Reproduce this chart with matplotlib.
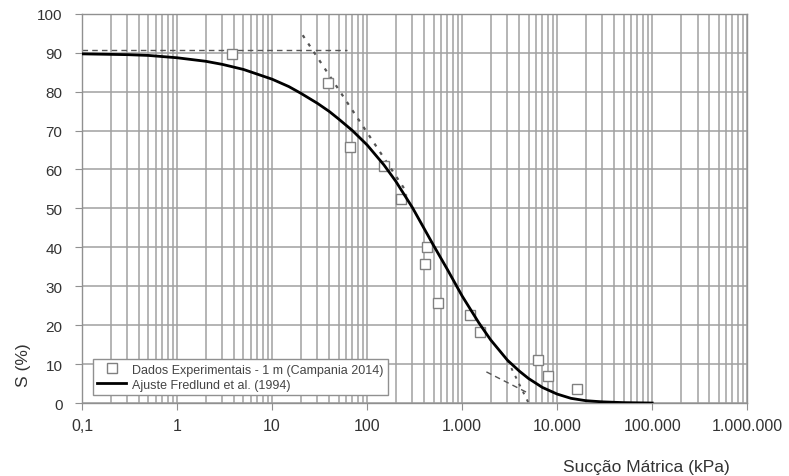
import matplotlib
matplotlib.use("Agg")
import matplotlib.pyplot as plt
from matplotlib.ticker import FixedLocator, LogLocator, NullFormatter, FixedFormatter

plt.rcParams['font.family'] = ['Liberation Sans', 'DejaVu Sans']

# Experimental data (suction kPa, saturation %)
exp_suction = [3.8, 39, 66, 150, 225, 430, 410, 560, 1200, 1530, 6300, 8000, 16000]
exp_S = [89.6, 82.3, 65.7, 60.8, 52.3, 40.2, 35.6, 25.8, 22.7, 18.3, 11.0, 6.9, 3.6]

# Fredlund & Xing fitted curve
fit_suction = [0.1, 0.3, 0.5, 1, 2, 3, 5, 10, 15, 20, 30, 40, 50, 70, 100, 150, 200,
               300, 500, 700, 1000, 1500, 2000, 3000, 4000, 5000, 7000, 10000,
               14000, 20000, 30000, 50000, 100000]
fit_S = [89.7, 89.5, 89.3, 88.7, 87.8, 87.0, 85.7, 83.2, 81.3, 79.6, 77.0, 74.9,
         73.0, 70.0, 66.3, 61.2, 57.0, 50.2, 40.5, 34.3, 27.5, 20.6, 16.2, 11.0,
         8.2, 6.3, 4.0, 2.3, 1.2, 0.6, 0.3, 0.1, 0.0]

# Construction lines
hline_x = [0.1, 62]
hline_y = [90.6, 90.6]
tan1_x = [21, 263]
tan1_y = [94.5, 54]
tan2_x = [1800, 5000]
tan2_y = [8.0, 2.5]
tan3_x = [3000, 5000]
tan3_y = [11.0, 0.0]

xtick_vals = [0.1, 1, 10, 100, 1000, 10000, 100000, 1000000]
xtick_labels = ["0,1", "1", "10", "100", "1.000", "10.000", "100.000", "1.000.000"]
ytick_vals = [0, 10, 20, 30, 40, 50, 60, 70, 80, 90, 100]

fig = plt.figure(figsize=(7.89, 4.77), dpi=100)
ax = fig.add_axes([0.104, 0.153, 0.843, 0.816])

ax.set_xscale('log')
ax.set_xlim(0.1, 1e6)
ax.set_ylim(0, 100)

grid_c = '#a0a0a0'
ax.xaxis.set_major_locator(FixedLocator(xtick_vals))
ax.xaxis.set_major_formatter(FixedFormatter(xtick_labels))
ax.xaxis.set_minor_locator(LogLocator(base=10, subs=range(2, 10), numticks=100))
ax.xaxis.set_minor_formatter(NullFormatter())
ax.set_yticks(ytick_vals)
ax.grid(True, which='major', axis='both', color=grid_c, linewidth=1.1)
ax.grid(True, which='minor', axis='x', color=grid_c, linewidth=1.1)
ax.set_axisbelow(True)
for s in ax.spines.values():
    s.set_color('#909090')
    s.set_linewidth(1.0)
ax.tick_params(axis='y', which='major', length=5, color='#909090', pad=9,
               labelsize=11, labelcolor='#333333')
ax.tick_params(axis='x', which='major', length=5, color='#909090', pad=6,
               labelsize=11.5, labelcolor='#333333')
ax.tick_params(axis='x', which='minor', length=0)

ax.plot(hline_x, hline_y, linestyle=(0, (4, 3)), color='#555555', linewidth=1.0)
ax.plot(tan1_x, tan1_y, linestyle=(0, (1.5, 3)), color='#555555', linewidth=1.6)
ax.plot(tan2_x, tan2_y, linestyle=(0, (4, 3)), color='#555555', linewidth=1.0)
ax.plot(tan3_x, tan3_y, linestyle=(0, (1.5, 3)), color='#555555', linewidth=1.4)

ax.plot(exp_suction, exp_S, linestyle='none', marker='s', markersize=6.5,
        markerfacecolor='white', markeredgecolor='#808080', markeredgewidth=1.0,
        label='Dados Experimentais - 1 m (Campania 2014)', zorder=3)
ax.plot(fit_suction, fit_S, color='black', linewidth=2.0,
        label='Ajuste Fredlund et al. (1994)', zorder=4)

leg = ax.legend(loc='lower left', bbox_to_anchor=(0.0165, 0.02), borderaxespad=0,
                fontsize=9, frameon=True, fancybox=False, edgecolor='#909090',
                framealpha=1, handlelength=2.3, handletextpad=0.5,
                borderpad=0.35, labelspacing=0.25)
leg.get_frame().set_linewidth(1.0)
for t in leg.get_texts():
    t.set_color('#444444')

fig.text(0.819, 0.020, 'Sucção Mátrica (kPa)', ha='center', va='center',
         fontsize=12.5, color='#333333')
fig.text(0.030, 0.235, 'S (%)', ha='center', va='center', rotation=90,
         fontsize=12.5, color='#333333')

fig.savefig('out.png', dpi=100)
